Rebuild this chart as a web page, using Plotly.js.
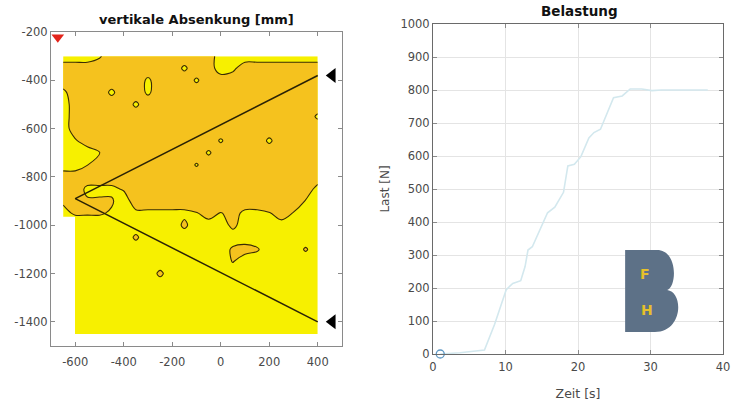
<!DOCTYPE html>
<html>
<head>
<meta charset="utf-8">
<script src="https://cdn.plot.ly/plotly-3.0.1.min.js"></script>
<style>html,body{margin:0;padding:0;background:#fff;}#chart{width:731px;height:401px;}</style>
</head>
<body>
<div id="chart"></div>
<script>
// ---------- Left panel: vertical settlement (contour) ----------
var gridX = [-650,-600,-550,-500,-450,-400,-350,-300,-250,-200,-150,-100,-50,0,50,100,150,200,250,300,350,400];
var gridY = [-300,-350,-400,-450,-500,-550,-600,-650,-700,-750,-800,-850,-900,-950,-1000,-1050,-1100,-1150,-1200,-1250,-1300,-1350,-1400,-1450];
// 1 = deeper (orange band), 0 = shallower (yellow band)
var zGrid = [
 [0,0,0,0.4,1,1,1,1,1,1,1,1,1,0,0,0,0,0,0,0,0,0],
 [1,1,1,1,1,1,1,1,1,1,0.35,1,1,0,0.3,1,1,1,1,1,1,1],
 [1,1,1,1,1,1,1,0.35,1,1,1,0.38,1,1,1,1,1,1,1,1,1,1],
 [0.3,1,1,1,0.33,1,1,0.35,1,1,1,1,1,1,1,1,1,1,1,1,1,1],
 [0,1,1,1,1,1,0.35,1,1,1,1,1,1,1,1,1,1,1,1,1,1,1],
 [0,1,1,1,1,1,1,1,1,1,1,1,1,1,1,1,1,1,1,1,1,0.35],
 [0,1,1,1,1,1,1,1,1,1,1,1,1,1,1,1,1,1,1,1,1,1],
 [0,0.4,1,1,1,1,1,1,1,1,1,1,1,0.4,1,1,1,0.35,1,1,1,1],
 [0,0,0,0.45,1,1,1,1,1,1,1,1,0.38,1,1,1,1,1,1,1,1,1],
 [0,0,0.48,1,1,1,1,1,1,1,1,0.42,1,1,1,1,1,1,1,1,1,1],
 [1,1,1,1,1,1,1,1,1,1,1,1,1,1,1,1,1,1,1,1,1,1],
 [1,1,0.3,0.3,0.3,0.6,1,1,1,1,1,1,1,1,1,1,1,1,1,1,1,0.2],
 [0.6,0.6,0.6,0.6,0.6,0,1,1,1,1,1,1,1,1,1,1,1,1,1,1,0.45,0],
 [0.3,0.6,0.6,0.6,0.4,0,0.3,0.3,0.3,0.3,0.3,0.45,1,0.45,0.8,0.3,0.3,0.45,1,0.45,0,0],
 [0,0,0,0,0,0,0,0,0,0,0.68,0,0,0,0.75,0,0,0,0.1,0,0,0],
 [0,0,0,0,0,0,0.65,0,0,0,0,0,0,0,0,0,0,0,0,0,0,0],
 [0,0,0,0,0,0,0,0,0,0,0,0,0,0,0.65,0.85,0.6,0,0,0,0.6,0],
 [0,0,0,0,0,0,0,0,0,0,0,0,0,0,0.55,0,0,0,0,0,0,0],
 [0,0,0,0,0,0,0,0,0.68,0,0,0,0,0,0,0,0,0,0,0,0,0],
 [0,0,0,0,0,0,0,0,0,0,0,0,0,0,0,0,0,0,0,0,0,0],
 [0,0,0,0,0,0,0,0,0,0,0,0,0,0,0,0,0,0,0,0,0,0],
 [0,0,0,0,0,0,0,0,0,0,0,0,0,0,0,0,0,0,0,0,0,0],
 [0,0,0,0,0,0,0,0,0,0,0,0,0,0,0,0,0,0,0,0,0,0],
 [0,0,0,0,0,0,0,0,0,0,0,0,0,0,0,0,0,0,0,0,0,0]
];
// measurement lines (from the load point to the two supports)
var lineX = [400, -600, 400];
var lineY = [-380, -890, -1400];
var supportX = [460, 460];
var supportY = [-380, -1400];
var loadX = [-672];
var loadY = [-222];
var leftXTicks = [-600, -400, -200, 0, 200, 400];
var leftXLabels = ['-600', '-400', '-200', '0', '200', '400'];
var leftYTicks = [-1400, -1200, -1000, -800, -600, -400, -200];
var leftYLabels = ['-1400', '-1200', '-1000', '-800', '-600', '-400', '-200'];

// ---------- Right panel: load over time ----------
var zeit = [1.0, 3.7, 7.1, 8.5, 10.1, 11.0, 12.1, 12.7, 13.1, 13.7, 15.8, 16.8, 18.0, 18.6, 19.5, 20.4, 21.5, 22.2, 23.1, 24.5, 24.9, 26.1, 27.2, 28.8, 30.2, 31.5, 37.9];
var last = [0, 4, 12, 90, 195, 214, 222, 265, 315, 325, 428, 445, 490, 570, 575, 598, 655, 671, 681, 757, 777, 782, 803, 803, 798, 800, 800];
var startZeit = [1.0];
var startLast = [0];

var cYellow = '#f7f000';
var cOrange = '#f5c21e';
var cLine = '#3a2c04';
var FONT = 'DejaVu Sans, Verdana, sans-serif';

var traces = [
  {type: 'contour', xaxis: 'x', yaxis: 'y', x: gridX, y: gridY, z: zGrid,
   autocontour: false,
   contours: {start: 0.5, end: 0.5, size: 1, coloring: 'fill'},
   colorscale: [[0, cYellow], [1, cOrange]],
   zmin: 0, zmax: 1, showscale: false,
   line: {color: cLine, width: 1.1, smoothing: 1},
   hoverinfo: 'skip'},
  {type: 'scatter', mode: 'lines', x: lineX, y: lineY, xaxis: 'x', yaxis: 'y',
   line: {color: '#2a2205', width: 1.5}, hoverinfo: 'skip'},
  {type: 'scatter', mode: 'markers', x: supportX, y: supportY, xaxis: 'x', yaxis: 'y',
   marker: {symbol: 'triangle-left', size: 13, color: '#000'}, cliponaxis: false},
  {type: 'scatter', mode: 'markers', x: loadX, y: loadY, xaxis: 'x', yaxis: 'y',
   marker: {symbol: 'triangle-down', size: 11, color: '#e3241b'}, cliponaxis: false},
  {type: 'scatter', mode: 'lines', x: zeit, y: last, xaxis: 'x2', yaxis: 'y2',
   line: {color: '#d3e8ee', width: 1.6}},
  {type: 'scatter', mode: 'markers', x: startZeit, y: startLast, xaxis: 'x2', yaxis: 'y2',
   marker: {symbol: 'circle-open', size: 8, color: '#5f98c4', line: {width: 1.3}}, cliponaxis: false}
];

var tickFont = {family: FONT, size: 11.5, color: '#4a4a4a'};
var axBase = {showline: true, mirror: 'ticks', linecolor: '#8a8a8a', linewidth: 1,
  ticks: 'inside', ticklen: 4, tickcolor: '#8a8a8a', tickfont: tickFont, zeroline: false, fixedrange: true};

var layout = {
  width: 731, height: 401,
  margin: {l: 0, r: 0, t: 0, b: 0},
  paper_bgcolor: '#fff', plot_bgcolor: '#fff',
  showlegend: false,
  font: {family: FONT},
  xaxis: Object.assign({}, axBase, {domain: [51/731, 342/731], range: [-700, 500],
    tickmode: 'array', tickvals: leftXTicks, ticktext: leftXLabels, showgrid: false, anchor: 'y',
    ticklabelstandoff: 5}),
  yaxis: Object.assign({}, axBase, {domain: [55/401, 369/401], range: [-1500, -200],
    tickmode: 'array', tickvals: leftYTicks, ticktext: leftYLabels, showgrid: false, anchor: 'x'}),
  xaxis2: Object.assign({}, axBase, {domain: [433/731, 723/731], range: [0, 40], dtick: 10,
    showgrid: true, gridcolor: '#e4e4e4', anchor: 'y2', linecolor: '#6a6a6a', ticklabelstandoff: 2,
    title: {text: 'Zeit [s]', font: {family: FONT, size: 12.5, color: '#4a4a4a'}, standoff: 16}}),
  yaxis2: Object.assign({}, axBase, {domain: [47/401, 377/401], range: [0, 1000], dtick: 100,
    showgrid: true, gridcolor: '#e4e4e4', anchor: 'x2', linecolor: '#6a6a6a',
    title: {text: 'Last [N]', font: {family: FONT, size: 12, color: '#4a4a4a'}, standoff: 8}}),
  annotations: [
    {text: 'vertikale Absenkung [mm]', xref: 'paper', yref: 'paper', x: 196.5/731, y: (401-19)/401,
     xanchor: 'center', yanchor: 'middle', showarrow: false,
     font: {family: FONT, size: 13, color: '#111', weight: 'bold'}},
    {text: 'Belastung', xref: 'paper', yref: 'paper', x: 579/731, y: (401-11)/401,
     xanchor: 'center', yanchor: 'middle', showarrow: false,
     font: {family: FONT, size: 13.5, color: '#111', weight: 'bold'}},
    {text: 'F', xref: 'x2', yref: 'y2', x: 29.3, y: 242, showarrow: false,
     font: {family: FONT, size: 14, color: '#e6c02a', weight: 'bold'}},
    {text: 'H', xref: 'x2', yref: 'y2', x: 29.5, y: 133, showarrow: false,
     font: {family: FONT, size: 14, color: '#e6c02a', weight: 'bold'}}
  ],
  shapes: [
    // white margin beside the lower part of the measured field
    {type: 'rect', xref: 'x', yref: 'y', layer: 'above', x0: -660, x1: -601, y0: -1460, y1: -965,
     fillcolor: '#fff', line: {width: 0}},
    {type: 'path', xref: 'x2', yref: 'y2', layer: 'above',
     path: 'M 26.5,67 L 26.5,315 L 30.9,315 C 33.8,315 33.66,203 32.3,194 C 34.6,188 34.5,67 30.6,67 Z',
     fillcolor: '#5d7187', line: {width: 0}}
  ]
};

Plotly.newPlot('chart', traces, layout, {staticPlot: true, displayModeBar: false});
</script>
</body>
</html>
